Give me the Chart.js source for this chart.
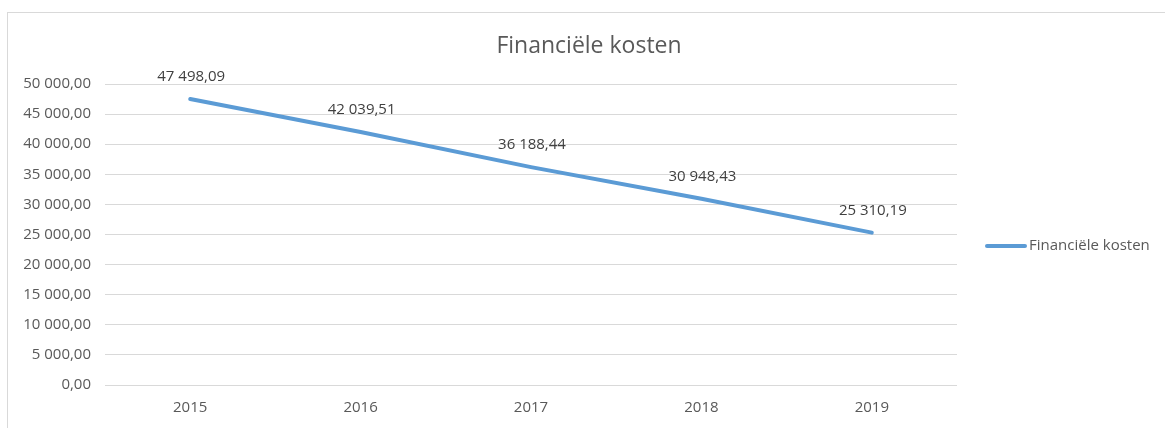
<!DOCTYPE html>
<html>
<head>
<meta charset="utf-8">
<script src="https://cdn.jsdelivr.net/npm/chart.js@4"></script>
<style>
  html, body { margin: 0; padding: 0; background: #fff; }
  #wrap { width: 1165px; height: 428px; }
</style>
</head>
<body>
<div id="wrap"><canvas id="myChart" width="1165" height="428"></canvas></div>
<script>
var years = ['2015', '2016', '2017', '2018', '2019'];
var kosten = [47498.09, 42039.51, 36188.44, 30948.43, 25310.19];
var seriesName = 'Financiële kosten';
var chartTitle = 'Financiële kosten';

var FONT = "'Open Sans', 'Liberation Sans', sans-serif";
var lineColor = '#5b9bd5';

// 47498.09 -> "47 498,09"
var fmt = function(v) {
    var parts = Number(v).toFixed(2).split('.');
    var ints = parts[0].replace(/\B(?=(\d{3})+(?!\d))/g, ' ');
    return ints + ',' + parts[1];
};

var extras = {
    id: 'extras',
    afterDraw: function(chart) {
        var c = chart.ctx;
        var meta = chart.getDatasetMeta(0);
        c.save();
        // outer border
        c.strokeStyle = '#d9d9d9';
        c.lineWidth = 1;
        c.strokeRect(7.5, 12.5, 1300, 600);
        // title
        c.fillStyle = '#595959';
        c.font = '23px ' + FONT;
        c.textAlign = 'center';
        c.textBaseline = 'alphabetic';
        c.fillText(chartTitle, 589, 53);
        // data labels
        c.fillStyle = '#404040';
        c.font = '15px ' + FONT;
        c.textBaseline = 'middle';
        meta.data.forEach(function(pt, i) {
            c.fillText(fmt(kosten[i]), pt.x + 1, pt.y - 22);
        });
        // legend
        c.strokeStyle = lineColor;
        c.lineWidth = 4;
        c.lineCap = 'round';
        c.beginPath();
        c.moveTo(987, 246);
        c.lineTo(1025, 246);
        c.stroke();
        c.fillStyle = '#595959';
        c.textAlign = 'left';
        c.fillText(seriesName, 1029, 246);
        c.restore();
    }
};

var ctx = document.getElementById('myChart');
var myLineChart = new Chart(ctx, {
    type: 'line',
    data: {
        labels: years,
        datasets: [{
            label: seriesName,
            data: kosten,
            borderColor: lineColor,
            backgroundColor: lineColor,
            borderWidth: 4,
            borderCapStyle: 'round',
            pointRadius: 0,
            fill: false,
            tension: 0
        }]
    },
    options: {
        responsive: false,
        animation: false,
        layout: { padding: { top: 84, right: 208, bottom: 0, left: 0 } },
        plugins: {
            legend: { display: false },
            title: { display: false },
            tooltip: { enabled: false }
        },
        scales: {
            x: {
                offset: true,
                grid: { display: false, drawTicks: false },
                border: { display: false },
                ticks: { color: '#595959', font: { family: FONT, size: 15 }, padding: 14 },
                afterFit: function(s) { s.height = 43; }
            },
            y: {
                min: 0,
                max: 50000,
                grid: { color: '#d9d9d9', lineWidth: 1, drawTicks: false },
                border: { display: false },
                ticks: {
                    stepSize: 5000,
                    color: '#595959',
                    font: { family: FONT, size: 15 },
                    padding: 14,
                    callback: function(v) { return fmt(v); }
                },
                afterFit: function(s) { s.width = 105; }
            }
        }
    },
    plugins: [extras]
});
</script>
</body>
</html>
